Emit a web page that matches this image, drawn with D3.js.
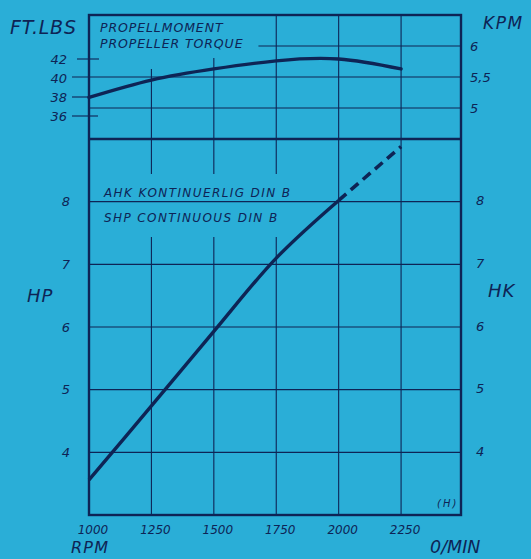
<!DOCTYPE html>
<html>
<head>
<meta charset="utf-8">
<script src="https://cdn.jsdelivr.net/npm/d3@7/dist/d3.min.js"></script>
<style>
  body { margin: 0; background: #2aaed7; }
  svg text { font-family: "DejaVu Sans", sans-serif; font-style: italic; fill: #0e2455; }
</style>
</head>
<body>
<svg id="chart" width="531" height="559"></svg>
<script>
// engine speed (rpm) at grid lines
var rpm = [1000, 1250, 1500, 1750, 2000, 2250];
// propeller torque, kpm (read against the KPM grid)
var torqueKpm = [5.17, 5.45, 5.63, 5.76, 5.79, 5.63];
// continuous shaft power, HP / HK
var powerHp = [3.56, 4.74, 5.93, 7.10, 8.02, 8.88];
// power is dashed beyond this speed
var dashedFrom = 2000;

var ftlbsTicks = [42, 40, 38, 36];
var kpmTicks = [6, 5.5, 5];
var hpTicks = [8, 7, 6, 5, 4];

var ink = "#0e2455";
var svg = d3.select("#chart");

svg.append("rect").attr("width", 531).attr("height", 559).attr("fill", "#2aaed7");

// frame layout
var L = 89, R = 461, T = 15, M = 139, B = 515;

var x = d3.scaleLinear().domain([1000, 2490]).range([L, R]);
var yKpm = d3.scaleLinear().domain([4.5, 6.5]).range([M, T]);
var yFt = d3.scaleLinear().domain([36, 42]).range([116, 59]);
var yHp = d3.scaleLinear().domain([3, 9]).range([B, M]);

var g = svg.append("g");

// annotations first, grid lines break round them
var note1 = g.append("g");
note1.append("text").attr("x", 100).attr("y", 32).attr("font-size", 12.5)
  .attr("letter-spacing", 0.9).text("PROPELLMOMENT");
note1.append("text").attr("x", 100).attr("y", 48).attr("font-size", 12.5)
  .attr("letter-spacing", 0.9).text("PROPELLER TORQUE");
var note2 = g.append("g");
note2.append("text").attr("x", 104).attr("y", 197).attr("font-size", 12)
  .attr("letter-spacing", 1.4).text("AHK KONTINUERLIG  DIN B");
note2.append("text").attr("x", 104).attr("y", 222).attr("font-size", 12)
  .attr("letter-spacing", 1.4).text("SHP CONTINUOUS  DIN B");
var b1 = note1.node().getBBox(), b2 = note2.node().getBBox();

var grid = g.append("g").attr("stroke", ink).attr("stroke-width", 1.1).attr("fill", "none");

// vertical grid lines
var topStart = {1250: 69, 1500: 58};
rpm.slice(1).forEach(function(v) {
  var xv = x(v);
  grid.append("line").attr("x1", xv).attr("x2", xv)
    .attr("y1", topStart[v] || T).attr("y2", M);
  if (xv < b2.x + b2.width + 12) {
    grid.append("line").attr("x1", xv).attr("x2", xv).attr("y1", M).attr("y2", b2.y - 12);
    grid.append("line").attr("x1", xv).attr("x2", xv).attr("y1", b2.y + b2.height + 12).attr("y2", B);
  } else {
    grid.append("line").attr("x1", xv).attr("x2", xv).attr("y1", M).attr("y2", B);
  }
});

// horizontal grid, torque panel
kpmTicks.forEach(function(v) {
  var x1 = L;
  if (v === 6) x1 = b1.x + b1.width + 15;
  if (v === 5.5) x1 = 72;
  grid.append("line").attr("x1", x1).attr("x2", R).attr("y1", yKpm(v)).attr("y2", yKpm(v));
});
// horizontal grid, power panel
hpTicks.forEach(function(v) {
  grid.append("line").attr("x1", L).attr("x2", R).attr("y1", yHp(v)).attr("y2", yHp(v));
});

// ft.lbs ticks on the left
var ftTickExt = {42: [77, 99], 40: [72, L], 38: [72, L], 36: [72, 98]};
ftlbsTicks.forEach(function(v) {
  if (v !== 40) {
    grid.append("line").attr("x1", ftTickExt[v][0]).attr("x2", ftTickExt[v][1])
      .attr("y1", yFt(v)).attr("y2", yFt(v));
  }
  g.append("text").attr("x", 67).attr("y", yFt(v)).attr("dy", "0.36em")
    .attr("text-anchor", "end").attr("font-size", 13).text(v);
});

// kpm labels right
kpmTicks.forEach(function(v) {
  g.append("text").attr("x", 470).attr("y", yKpm(v)).attr("dy", "0.36em")
    .attr("font-size", 13).text(String(v).replace(".", ","));
});

// HP left, HK right
hpTicks.forEach(function(v) {
  g.append("text").attr("x", 70).attr("y", yHp(v)).attr("dy", "0.36em")
    .attr("text-anchor", "end").attr("font-size", 13).text(v);
  g.append("text").attr("x", 476).attr("y", yHp(v) - 1).attr("dy", "0.36em")
    .attr("font-size", 13).text(v);
});

// rpm labels
rpm.forEach(function(v) {
  g.append("text").attr("x", x(v) + 4).attr("y", 534).attr("text-anchor", "middle")
    .attr("font-size", 12).text(v);
});

// frame
g.append("rect").attr("x", L).attr("y", T).attr("width", R - L).attr("height", B - T)
  .attr("fill", "none").attr("stroke", ink).attr("stroke-width", 2.4);
g.append("line").attr("x1", L).attr("x2", R).attr("y1", M).attr("y2", M)
  .attr("stroke", ink).attr("stroke-width", 2.4);

// torque curve
var torque = rpm.map(function(r, i) { return [r, torqueKpm[i]]; });
g.append("path").datum(torque)
  .attr("fill", "none").attr("stroke", ink).attr("stroke-width", 3.4).attr("stroke-linecap", "round")
  .attr("d", d3.line().x(function(d) { return x(d[0]); }).y(function(d) { return yKpm(d[1]); })
    .curve(d3.curveNatural));

// power curve
var power = rpm.map(function(r, i) { return [r, powerHp[i]]; });
var pline = d3.line().x(function(d) { return x(d[0]); }).y(function(d) { return yHp(d[1]); })
  .curve(d3.curveCatmullRom.alpha(0.5));
g.append("path").datum(power.filter(function(d) { return d[0] <= dashedFrom; }))
  .attr("fill", "none").attr("stroke", ink).attr("stroke-width", 3.4).attr("d", pline);
g.append("path").datum(power.filter(function(d) { return d[0] >= dashedFrom; }))
  .attr("fill", "none").attr("stroke", ink).attr("stroke-width", 3.6)
  .attr("stroke-dasharray", "10,6").attr("d", pline);

// axis titles
g.append("text").attr("x", 10).attr("y", 34).attr("font-size", 19).attr("letter-spacing", 0.8).text("FT.LBS");
g.append("text").attr("x", 483).attr("y", 29).attr("font-size", 17).attr("letter-spacing", 1.5).text("KPM");
g.append("text").attr("x", 27).attr("y", 302).attr("font-size", 18).attr("letter-spacing", 1).text("HP");
g.append("text").attr("x", 488).attr("y", 297).attr("font-size", 18).attr("letter-spacing", 1).text("HK");
g.append("text").attr("x", 71).attr("y", 553).attr("font-size", 16).attr("letter-spacing", 1.2).text("RPM");
g.append("text").attr("x", 430).attr("y", 553).attr("font-size", 17.5).text("0/MIN");
g.append("text").attr("x", 437).attr("y", 507).attr("font-size", 10).attr("letter-spacing", 2).text("(H)");
</script>
</body>
</html>
